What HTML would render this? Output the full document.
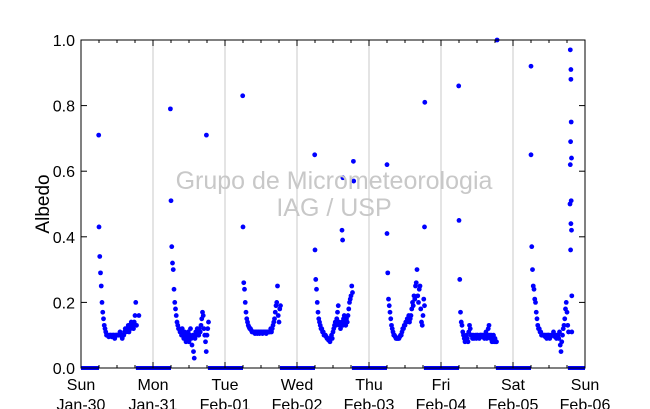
<!DOCTYPE html>
<html><head><meta charset="utf-8"><style>
body{margin:0;background:#fff;}
svg{display:block;font-family:"Liberation Sans",sans-serif;}
</style></head><body>
<svg id="chart" width="650" height="409">
<rect x="0" y="0" width="650" height="409" fill="#fff"/>
<g id="grid"></g>
<g id="zeros"></g>
<g id="pts"></g>
<text x="334" y="189" font-size="25" fill="#c8c8c8" text-anchor="middle">Grupo de Micrometeorologia</text>
<text x="334" y="216" font-size="25" fill="#c8c8c8" text-anchor="middle">IAG / USP</text>
<rect x="81" y="40" width="504" height="328" fill="none" stroke="#000" stroke-width="1"/>
<g id="axes"></g>
<text transform="translate(49,204) rotate(-90)" font-size="19" text-anchor="middle">Albedo</text>
</svg>
<script>
const dayLabels=["Sun","Mon","Tue","Wed","Thu","Fri","Sat","Sun"];
const dateLabels=["Jan-30","Jan-31","Feb-01","Feb-02","Feb-03","Feb-04","Feb-05","Feb-06"];
const yTicks=[0,0.2,0.4,0.6,0.8,1.0];
const yTickLabels=["0.0","0.2","0.4","0.6","0.8","1.0"];
// daytime albedo, hours 6.0 .. 18.5 step 0.25
const startHour=6.0, stepHour=0.25;
const day0=[.43,.34,.29,.25,.2,.17,.15,.13,.12,.11,.1,.1,.1,.095,.1,.1,.1,.095,.1,.1,.1,.09,.1,.1,.1,.1,.1,.1,.11,.1,.1,.09,.1,.1,.11,.12,.11,.12,.12,.13,.11,.13,.12,.14,.13,.13,.12,.14,.16,.2,.13];
const day1=[.51,.37,.32,.3,.24,.2,.18,.16,.14,.13,.12,.12,.11,.11,.1,.12,.1,.09,.11,.1,.08,.1,.09,.11,.08,.1,.12,.09,.07,.1,.05,.03,.09,.11,.1,.12,.11,.1,.12,.11,.13,.15,.17,.16,.12,.1,.08,.05,.1,.12,.14];
const day2=[.43,.26,.24,.2,.17,.15,.14,.13,.125,.12,.12,.115,.11,.11,.11,.11,.105,.11,.11,.105,.11,.11,.105,.11,.11,.11,.105,.11,.11,.11,.11,.105,.11,.11,.11,.11,.11,.12,.11,.12,.13,.14,.15,.17,.19,.2,.25,.16,.14,.18,.19];
const day3=[.36,.27,.24,.2,.17,.15,.14,.13,.12,.12,.11,.11,.1,.1,.1,.095,.09,.09,.085,.09,.08,.09,.1,.09,.11,.12,.13,.14,.13,.15,.17,.19,.14,.13,.12,.13,.14,.13,.15,.16,.14,.13,.15,.14,.16,.18,.2,.21,.22,.25,.23];
const day4=[.41,.29,.21,.19,.17,.15,.13,.12,.11,.1,.1,.095,.09,.09,.09,.09,.09,.095,.1,.1,.11,.12,.12,.13,.13,.14,.14,.15,.15,.16,.14,.15,.16,.18,.2,.19,.22,.21,.25,.26,.3,.22,.2,.24,.25,.18,.14,.13,.16,.21,.19];
const day5=[.45,.27,.17,.14,.13,.11,.1,.09,.08,.09,.1,.09,.08,.11,.13,.12,.1,.1,.09,.1,.09,.095,.1,.09,.1,.1,.095,.09,.1,.1,.1,.095,.1,.1,.09,.1,.11,.09,.1,.12,.13,.1,.09,.1,.08,.09,.1,.08,.09,.08,.08];
const day6=[.65,.37,.3,.25,.24,.21,.2,.17,.15,.13,.12,.12,.11,.11,.1,.1,.1,.1,.1,.095,.1,.09,.1,.1,.1,.09,.095,.1,.1,.1,.11,.1,.095,.1,.09,.1,.1,.09,.11,.07,.05,.08,.1,.12,.13,.15,.18,.2,.17,.13,.11];
const days=[day0,day1,day2,day3,day4,day5,day6];
// outliers: [dayIndex, hour, value]
const outDay=[0,0,1,1,2,3,3,3,3,3,3,4,4,4,5,5,6,6,6,6,6,6,6,6,6,6,6,6,6,6,6];
const outHour=[5.9,19.3,5.8,17.8,5.9,5.9,15.2,15.0,15.3,18.8,18.9,6.0,18.6,18.5,5.9,18.7,6.0,19.0,19.1,19.3,19.3,19.4,19.2,19.5,19.1,19.4,19.3,19.5,19.2,19.6,19.6];
const outVal=[.71,.16,.79,.71,.83,.65,.39,.42,.58,.63,.57,.62,.81,.43,.86,1.0,.92,.5,.97,.91,.88,.75,.69,.64,.62,.51,.44,.42,.36,.22,.11];

const X0=81,X1=585,Y0=368,Y1=40,NDAYS=7;
const xs=(d,h)=>X0+(d+h/24)*(X1-X0)/NDAYS;
const ys=v=>Y0-v*(Y0-Y1);
const NS="http://www.w3.org/2000/svg";
function mk(tag,parent,attrs){const e=document.createElementNS(NS,tag);for(const k in attrs)e.setAttribute(k,attrs[k]);parent.appendChild(e);return e;}
const grid=document.getElementById('grid'),axes=document.getElementById('axes'),pts=document.getElementById('pts'),zeros=document.getElementById('zeros');
for(let d=1;d<NDAYS;d++){
  const l=mk('line',grid,{x1:xs(d,0),x2:xs(d,0),y1:Y1,y2:Y0,stroke:'#c8c8c8','stroke-width':1});
  
  
}
for(let d=0;d<=NDAYS;d++){
  const x=xs(d,0);
  const t=mk('text',axes,{x:x,y:390,'font-size':16,'text-anchor':'middle'});t.textContent=dayLabels[d];
  
  
  const t2=mk('text',axes,{x:x,y:410,'font-size':16,'text-anchor':'middle'});t2.textContent=dateLabels[d];
  
  
  for(let q=0;q<4&&d<NDAYS;q++){
    const xx=xs(d,q*6),len=q==0?6:3;
    const tk=mk('line',axes,{x1:xx,x2:xx,y1:Y0,y2:Y0-len,stroke:'#000'});
    
    
    const tk2=mk('line',axes,{x1:xx,x2:xx,y1:Y1,y2:Y1+len,stroke:'#000'});
    
    
  }
}
yTicks.forEach((v,i)=>{
  const y=ys(v);
  const t=mk('text',axes,{x:75,y:y+6,'font-size':16,'text-anchor':'end'});t.textContent=yTickLabels[i];
  
  
  const a=mk('line',axes,{x1:X0,x2:X0+6,y1:y,y2:y,stroke:'#000'});
  
  
  const b=mk('line',axes,{x1:X1,x2:X1-6,y1:y,y2:y,stroke:'#000'});
  
  
});
// night zeros
for(let d=0;d<NDAYS;d++){
  for(const [a,b] of [[0,6],[18.3,24]]){
    const r=mk('rect',zeros,{x:xs(d,a),y:Y0-2,width:xs(d,b)-xs(d,a),height:4,fill:'#0000ff'});
    
    
  }
}
days.forEach((arr,d)=>{
  arr.forEach((v,i)=>{
    const c=mk('circle',pts,{cx:xs(d,startHour+i*stepHour),cy:ys(v),r:2.4,fill:'#0000ff'});
    
    
  });
});
outVal.forEach((v,i)=>{
  const c=mk('circle',pts,{cx:xs(outDay[i],outHour[i]),cy:ys(v),r:2.4,fill:'#0000ff'});
  
  
});
</script>
</body></html>
